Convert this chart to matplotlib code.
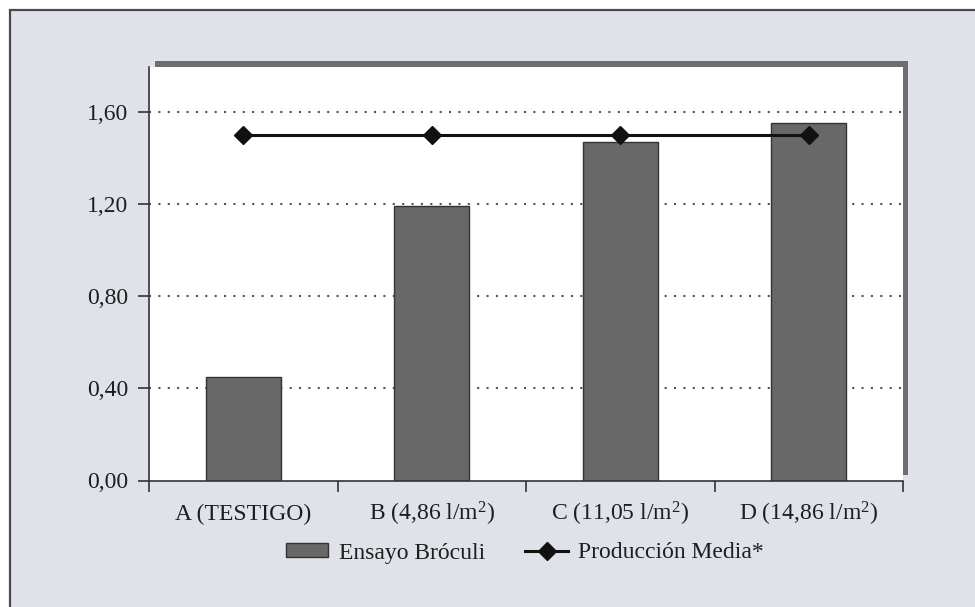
import matplotlib
matplotlib.use("Agg")
import matplotlib.pyplot as plt
from matplotlib.patches import Rectangle, Patch
from matplotlib.lines import Line2D
from matplotlib.ticker import FuncFormatter

plt.rcParams['font.family'] = ['Liberation Serif', 'DejaVu Serif']
plt.rcParams['mathtext.fontset'] = 'custom'
plt.rcParams['mathtext.rm'] = 'Liberation Serif'
plt.rcParams['mathtext.it'] = 'Liberation Serif:italic'
plt.rcParams['mathtext.default'] = 'regular'

# data
categories = ['A (TESTIGO)', r'B (4,86 l/m$^{2}$)', r'C (11,05 l/m$^{2}$)', r'D (14,86 l/m$^{2}$)']
ensayo = [0.45, 1.19, 1.47, 1.55]
produccion_media = [1.50, 1.50, 1.50, 1.50]
y_ticks = [0.0, 0.4, 0.8, 1.2, 1.6]

W, H = 975, 607
fs = 17
txt = '#1e1e1e'

fig = plt.figure(figsize=(W / 100, H / 100), dpi=100)
fig.patch.set_facecolor('white')

# outer panel with frame (left/top edge only visible)
fig.patches.append(Rectangle((10 / W, -0.05), 1.1, 1 - 10 / H + 0.05, transform=fig.transFigure,
                             facecolor='#dfe3e9', edgecolor='#4a4a4a', lw=1.6, zorder=-3))
# shadow behind plot area
fig.patches.append(Rectangle((155 / W, 1 - 475 / H), (908 - 155) / W, (475 - 61) / H,
                             transform=fig.transFigure, facecolor='#6e6e6e', edgecolor='none', zorder=-2))

ax = fig.add_axes([149 / W, 1 - 480.5 / H, (903 - 149) / W, (480.5 - 67) / H])
ax.set_facecolor('white')

x = list(range(len(categories)))
ax.bar(x, ensayo, width=0.40, color='#686868', edgecolor='#333333', lw=1.0, zorder=2)
ax.plot(x, produccion_media, color='#111111', lw=2.2, marker='D', ms=9.5, zorder=3)

ax.set_xlim(-0.5, 3.5)
ax.set_ylim(0, 1.795)

ax.set_yticks(y_ticks)
ax.yaxis.set_major_formatter(FuncFormatter(lambda v, p: f'{v:.2f}'.replace('.', ',')))
ax.tick_params(axis='y', length=8, width=1.2, pad=7, labelsize=fs, colors='#333333', labelcolor=txt)

ax.set_xticks([-0.5, 0.5, 1.5, 2.5, 3.5])
ax.set_xticklabels([])
ax.set_xticks(x, minor=True)
ax.set_xticklabels(categories, minor=True, va='baseline')
ax.tick_params(axis='x', which='major', length=8, width=1.2, colors='#333333')
ax.tick_params(axis='x', which='minor', length=0, pad=28.5, labelsize=fs, labelcolor=txt)

for g in y_ticks[1:]:
    ax.axhline(g, color='#555555', lw=1.5, ls=(0, (1, 3.5)), zorder=1)

for s in ['top', 'right']:
    ax.spines[s].set_visible(False)
for s in ['left', 'bottom']:
    ax.spines[s].set_color('#333333')
    ax.spines[s].set_linewidth(1.2)

handles = [Patch(facecolor='#686868', edgecolor='#333333', lw=1.0),
           Line2D([], [], color='#111111', lw=2.2, marker='D', ms=9.5)]
fig.legend(handles, ['Ensayo Bróculi', 'Producción Media*'], loc='center',
           bbox_to_anchor=(525 / W, 1 - 553 / H), ncol=2, frameon=False, fontsize=fs,
           handlelength=1.8, handleheight=0.5, handletextpad=0.45, columnspacing=1.7,
           labelcolor=txt)

fig.savefig('out.png', dpi=100)
